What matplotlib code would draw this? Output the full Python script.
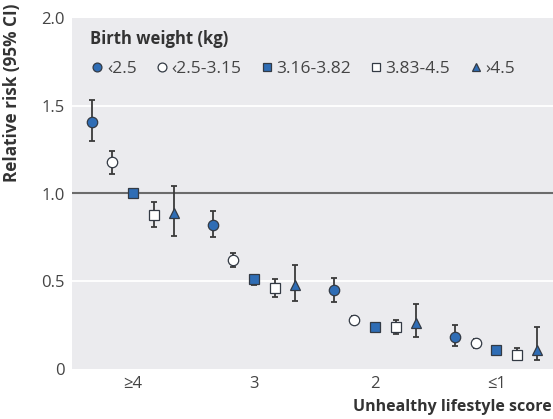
import matplotlib
matplotlib.use("Agg")
import matplotlib.pyplot as plt
import numpy as np

groups = ["≥4", "3", "2", "≤1"]
series = ["‹2.5", "‹2.5-3.15", "3.16-3.82", "3.83-4.5", "›4.5"]
rr = [
    [1.41, 0.82, 0.45, 0.18],
    [1.18, 0.62, 0.28, 0.15],
    [1.00, 0.51, 0.24, 0.11],
    [0.88, 0.46, 0.24, 0.08],
    [0.89, 0.48, 0.26, 0.11],
]
lo = [
    [1.30, 0.75, 0.38, 0.13],
    [1.11, 0.58, 0.26, 0.12],
    [1.00, 0.48, 0.22, 0.10],
    [0.81, 0.41, 0.20, 0.05],
    [0.76, 0.39, 0.18, 0.05],
]
hi = [
    [1.53, 0.90, 0.52, 0.25],
    [1.24, 0.66, 0.30, 0.17],
    [1.00, 0.53, 0.25, 0.12],
    [0.95, 0.51, 0.28, 0.12],
    [1.04, 0.59, 0.37, 0.24],
]

blue = "#2F6DB5"
edge = "#333a44"
markers = ["o", "o", "s", "s", "^"]
faces = [blue, "white", blue, "white", blue]
msizes = [7.5, 7.5, 6.5, 6.5, 6.5]

plt.rcParams["font.family"] = ["Open Sans", "DejaVu Sans"]
fig = plt.figure(figsize=(5.53, 4.19), dpi=100)
ax = fig.add_axes([72 / 553, 50 / 419, 1 - 72 / 553, 351 / 419])
ax.set_facecolor("#EBEBEE")

x0 = np.arange(len(groups))
offs = np.array([-2, -1, 0, 1, 2]) * 0.17
for i, name in enumerate(series):
    xs = x0 + offs[i]
    y = np.array(rr[i])
    yerr = np.vstack([y - np.array(lo[i]), np.array(hi[i]) - y])
    ax.errorbar(xs, y, yerr=yerr, fmt="none", ecolor="#3a3a3a", elinewidth=1.3,
                capsize=2.5, capthick=1.3, zorder=3)
    ax.plot(xs, y, linestyle="none", marker=markers[i], markersize=msizes[i],
            markerfacecolor=faces[i], markeredgecolor=edge, markeredgewidth=0.9,
            label=name, zorder=4)

for yv in [0.5, 1.5]:
    ax.axhline(yv, color="white", lw=1.3, zorder=1)
ax.axhline(1.0, color="#6b6b6b", lw=1.5, zorder=2)

ax.set_xlim(-0.504, 3.47)
ax.set_ylim(0, 2.0)
ax.set_xticks(x0)
ax.set_xticklabels(groups)
ax.set_yticks([0, 0.5, 1.0, 1.5, 2.0])
ax.set_yticklabels(["0", "0.5", "1.0", "1.5", "2.0"])
ax.tick_params(length=0, labelsize=12, colors="#444444", pad=5)
for s in ax.spines.values():
    s.set_visible(False)

fig.text(12 / 553, 1 - 4 / 419, "Relative risk (95% CI)", rotation=90, ha="center", va="top",
         fontsize=12.3, fontweight="bold", color="#333333")
fig.text(552 / 553, 1 - 407 / 419, "Unhealthy lifestyle score", ha="right", va="center",
         fontsize=11.5, fontweight="bold", color="#333333")

leg = ax.legend(loc="upper left", ncol=5, frameon=False, title="Birth weight (kg)",
                title_fontproperties={"weight": "bold", "size": 12},
                fontsize=12.5, handletextpad=0.1, columnspacing=1.0, handlelength=0.9,
                markerscale=0.85, bbox_to_anchor=(0.015, 0.995), borderaxespad=0.2,
                labelspacing=0.75)
leg._legend_box.align = "left"
leg.get_title().set_color("#333333")
for t in leg.get_texts():
    t.set_color("#444444")

fig.savefig("out.png", dpi=100)
